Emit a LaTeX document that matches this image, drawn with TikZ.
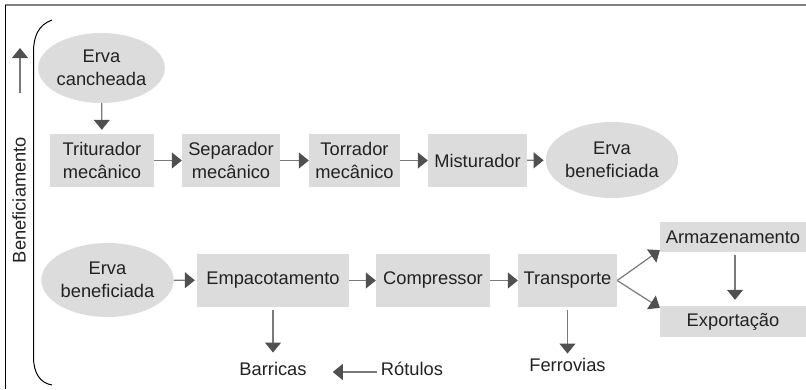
\documentclass[tikz,border=0pt]{standalone}
\usepackage{fontspec}
\setmainfont{Liberation Sans}
\usetikzlibrary{arrows.meta,shapes.geometric}

\definecolor{boxgray}{HTML}{DCDCDC}
\definecolor{linegray}{HTML}{7A7A7A}
\definecolor{headgray}{HTML}{505050}
\definecolor{textgray}{HTML}{222222}

\tikzset{
  stepbox/.style={fill=boxgray, text=textgray, align=center, inner sep=0pt, minimum height=53bp},
  blob/.style={ellipse, fill=boxgray, text=textgray, align=center, inner sep=0pt},
  label/.style={text=textgray, inner sep=0pt, anchor=base},
  flow/.style={draw=linegray, line width=1.2bp, -{Triangle[length=10bp,width=16bp,color=headgray]}}
}

\begin{document}
\begin{tikzpicture}[x=1bp, y=1bp, font=\fontsize{18.3bp}{23bp}\selectfont]
    \useasboundingbox (0,0) rectangle (806,389);
    % frame
    \draw[gray, line width=1.5bp] (5,384) -- (806,384);
    \draw[black, line width=1bp] (5,384) -- (5,0);
    % bracket
    \draw[black, line width=1bp] (52,369) .. controls (38,364) and (33.5,352) .. (33.5,337)
        -- (33.5,32) .. controls (33.5,16) and (40,6) .. (52,4);
    \coordinate (up0) at (20,296);
    \coordinate (up1) at (20,341);
    \draw[flow] (up0) -- (up1);
    \node[rotate=90, text=textgray, inner sep=0pt] (benef) at (19,189) {Beneficiamento};
    % first row
    \node[blob, minimum width=123bp, minimum height=70bp] (cancheada) at (101.5,321) {Erva\\cancheada};
    \node[stepbox, minimum width=104bp] (triturador) at (102,228.5) {Triturador\\mecânico};
    \node[stepbox, minimum width=98bp] (separador) at (231,228.5) {Separador\\mecânico};
    \node[stepbox, minimum width=91bp] (torrador) at (354.5,228.5) {Torrador\\mecânico};
    \node[stepbox, minimum width=99bp] (misturador) at (477.5,228.5) {Misturador};
    \node[blob, minimum width=115bp, minimum height=76bp] (beneficiadaA) at (612,229) {Erva\\beneficiada};
    % second row
    \node[blob, minimum width=119bp, minimum height=74bp] (beneficiadaB) at (107.5,109) {Erva\\beneficiada};
    \node[stepbox, minimum width=152bp] (empacotamento) at (273,108.5) {Empacotamento};
    \node[stepbox, minimum width=114bp] (compressor) at (433,108.5) {Compressor};
    \node[stepbox, minimum width=99bp] (transporte) at (567.5,108.5) {Transporte};
    \node[stepbox, minimum width=146bp, minimum height=30bp] (armazenamento) at (733,152) {Armazenamento};
    \node[stepbox, minimum width=146bp, minimum height=31bp] (exportacao) at (733,67.5) {Exportação};
    % outputs
    \node[label] (barricas) at (273,14) {Barricas};
    \node[label] (rotulos) at (412,14) {Rótulos};
    \node[label] (ferrovias) at (567.5,18) {Ferrovias};
    % arrows
    \draw[flow, shorten >=4bp] (cancheada) -- (triturador);
    \draw[flow] (triturador) -- (separador);
    \draw[flow] (separador) -- (torrador);
    \draw[flow] (torrador) -- (misturador);
    \draw[flow, shorten >=2bp] (misturador) -- (beneficiadaA);
    \draw[flow, shorten >=2bp] (beneficiadaB) -- (empacotamento);
    \draw[flow] (empacotamento) -- (compressor);
    \draw[flow] (compressor) -- (transporte);
    \draw[flow] (transporte.east) -- ([yshift=2bp]armazenamento.south west);
    \draw[flow] (transporte.east) -- ([yshift=-2bp]exportacao.north west);
    \draw[flow, shorten <=3bp, shorten >=6bp] ([xshift=2bp]armazenamento.south) -- ([xshift=2bp]exportacao.north);
    \draw[flow, shorten <=3bp, shorten >=9bp] (empacotamento.south) -- (empacotamento.south |- barricas.north);
    \draw[flow, shorten <=3bp, shorten >=4bp] (transporte.south) -- (transporte.south |- ferrovias.north);
    \draw[flow, shorten <=4bp, shorten >=26bp] ([yshift=3bp]rotulos.base west) -- ([yshift=3bp]barricas.base east);
\end{tikzpicture}
\end{document}
